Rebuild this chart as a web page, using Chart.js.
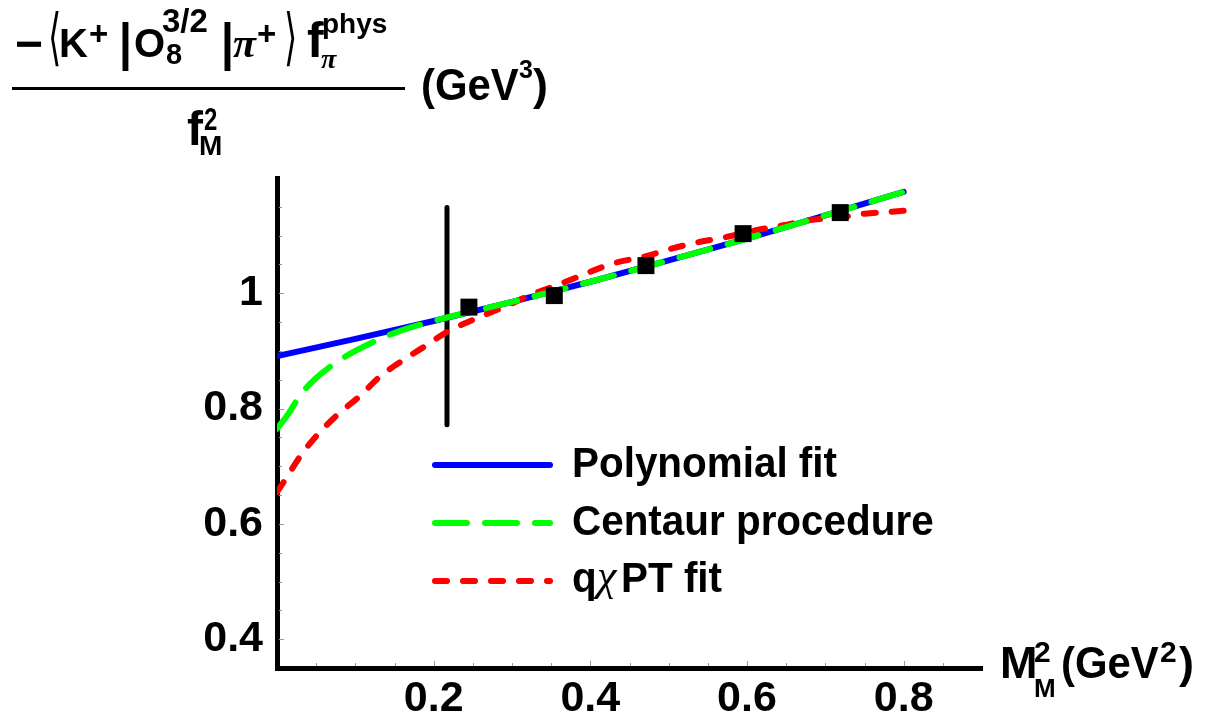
<!DOCTYPE html>
<html>
<head>
<meta charset="utf-8">
<script src="https://cdn.jsdelivr.net/npm/chart.js@4.4.1/dist/chart.umd.min.js"></script>
<style>
  html, body { margin: 0; padding: 0; background: #fff; }
</style>
</head>
<body>
<canvas id="chart" width="1212" height="721"></canvas>
<script>
// values
const polyX = [0, 0.1, 0.2, 0.3, 0.4, 0.5, 0.6, 0.7, 0.8];
const polyY = [0.891, 0.921, 0.952, 0.985, 1.020, 1.057, 1.095, 1.135, 1.176];

const centaurX = [0, 0.015, 0.03, 0.05, 0.08, 0.1, 0.13, 0.16, 0.2, 0.3, 0.4, 0.5, 0.6, 0.7, 0.8];
const centaurY = [0.765, 0.792, 0.824, 0.853, 0.884, 0.900, 0.920, 0.936, 0.952, 0.985, 1.020, 1.057, 1.095, 1.135, 1.176];

const chptX = [0, 0.012, 0.03, 0.048, 0.077, 0.106, 0.131, 0.161, 0.191, 0.217, 0.259, 0.293, 0.325, 0.361,
  0.43, 0.47, 0.505, 0.539, 0.575, 0.61, 0.646, 0.68, 0.72, 0.75, 0.8];
const chptY = [0.655, 0.680, 0.718, 0.749, 0.789, 0.822, 0.855, 0.884, 0.910, 0.933, 0.959, 0.978, 0.998, 1.016,
  1.052, 1.064, 1.078, 1.089, 1.098, 1.109, 1.118, 1.127, 1.132, 1.138, 1.143];

const latticeX = [0.245, 0.354, 0.471, 0.595, 0.719];
const latticeY = [0.976, 0.996, 1.048, 1.1035, 1.140];

const markerX = [0.217, 0.217];
const markerY = [0.772, 1.149];

const xTickValues = [0.2, 0.4, 0.6, 0.8];
const xTickLabels = ["0.2", "0.4", "0.6", "0.8"];
const yTickValues = [0.4, 0.6, 0.8, 1];
const yTickLabels = ["0.4", "0.6", "0.8", "1"];

const X_MIN = 0, X_MAX = 0.9, Y_MIN = 0.35, Y_MAX = 1.2;
const MINOR_STEP = 0.05;

const SANS = '"Liberation Sans", Arial, Helvetica, sans-serif';
const SERIF = '"Liberation Serif", "Times New Roman", serif';
const MATH = '"DejaVu Sans", sans-serif';
const bold = (px) => `bold ${px}px ${SANS}`;
const plain = (px) => `${px}px ${SANS}`;
const greek = (px) => `italic bold ${px}px ${SERIF}`;
const bracket = (px) => `${px}px ${MATH}`;

const BLUE = "#0000ff", GREEN = "#00ff00", RED = "#ff0000";
const GREEN_DASH = [32, 18];
const RED_DASH = [12, 16];

const pts = (xs, ys) => xs.map((x, i) => ({ x, y: ys[i] }));

function put(ctx, text, x, y, font, sx = 1) {
  ctx.save();
  ctx.font = font;
  ctx.translate(x, y);
  ctx.scale(sx, 1);
  ctx.fillText(text, 0, 0);
  ctx.restore();
}

// small inward ticks on both axes
const minorTicks = {
  id: "minorTicks",
  beforeDatasetsDraw(chart) {
    const { ctx, chartArea, scales } = chart;
    ctx.save();
    ctx.strokeStyle = "#999";
    ctx.lineWidth = 1;
    ctx.beginPath();
    for (let v = X_MIN + MINOR_STEP; v < X_MAX - 1e-9; v += MINOR_STEP) {
      const px = Math.round(scales.x.getPixelForValue(v)) + 0.5;
      const major = xTickValues.some((t) => Math.abs(t - v) < 1e-6);
      ctx.moveTo(px, chartArea.bottom - 2);
      ctx.lineTo(px, chartArea.bottom - (major ? 7 : 5));
    }
    for (let v = 0.4; v < Y_MAX - 1e-9; v += MINOR_STEP) {
      const py = Math.round(scales.y.getPixelForValue(v)) + 0.5;
      const major = yTickValues.some((t) => Math.abs(t - v) < 1e-6);
      ctx.moveTo(chartArea.left + 2, py);
      ctx.lineTo(chartArea.left + (major ? 7 : 5), py);
    }
    ctx.stroke();
    ctx.restore();
  },
};

// axis titles and the legend block
const annotations = {
  id: "annotations",
  afterDraw(chart) {
    const ctx = chart.ctx;
    ctx.save();
    ctx.fillStyle = "#000";
    ctx.textAlign = "left";
    ctx.textBaseline = "alphabetic";

    // y title: fraction
    put(ctx, "\u2212", 15, 60, bold(48));
    put(ctx, "\u27E8", 48, 58, bracket(62), 0.55);
    put(ctx, "K", 59, 57, bold(40));
    put(ctx, "+", 89, 45, bold(33));
    put(ctx, "|", 116, 60, plain(52), 1.4);
    put(ctx, "O", 134, 57, bold(40));
    put(ctx, "3/2", 162, 32, bold(33));
    put(ctx, "8", 166, 64, bold(29));
    put(ctx, "|", 218, 60, plain(52), 1.4);
    put(ctx, "\u03C0", 233, 57, greek(42));
    put(ctx, "+", 257, 45, bold(33));
    put(ctx, "\u27E9", 284, 58, bracket(62), 0.55);
    put(ctx, "f", 307, 57, bold(50));
    put(ctx, "phys", 322, 33, bold(28));
    put(ctx, "\u03C0", 321, 68, greek(28));
    ctx.fillRect(12, 87, 393, 3);
    put(ctx, "(GeV", 421, 100, bold(45), 0.93);
    put(ctx, "3", 519, 78, bold(25));
    put(ctx, ")", 533, 100, bold(45));
    put(ctx, "f", 187, 145, bold(48));
    put(ctx, "2", 204, 130, bold(32), 0.75);
    put(ctx, "M", 199, 155, bold(28));

    // x title
    put(ctx, "M", 1000, 678, bold(45));
    put(ctx, "2", 1034, 662, bold(30));
    put(ctx, "M", 1034, 697, bold(26));
    put(ctx, "(GeV", 1061, 678, bold(45), 0.93);
    put(ctx, "2", 1160, 662, bold(30));
    put(ctx, ")", 1179, 678, bold(45));

    // legend
    const rows = [
      { y: 465, color: BLUE, dash: [] },
      { y: 523, color: GREEN, dash: GREEN_DASH },
      { y: 581, color: RED, dash: RED_DASH },
    ];
    ctx.lineWidth = 6;
    ctx.lineCap = "round";
    for (const r of rows) {
      ctx.strokeStyle = r.color;
      ctx.setLineDash(r.dash);
      ctx.beginPath();
      ctx.moveTo(435, r.y);
      ctx.lineTo(550, r.y);
      ctx.stroke();
    }
    ctx.setLineDash([]);
    put(ctx, "Polynomial fit", 572, 477, bold(43), 0.94);
    put(ctx, "Centaur procedure", 572, 535, bold(43), 0.94);
    put(ctx, "q", 572, 592, bold(43), 0.94);
    put(ctx, "\u03C7", 597, 590, `italic 44px ${SERIF}`);
    put(ctx, "PT fit", 621, 592, bold(43), 0.94);
    ctx.restore();
  },
};

const curveStyle = {
  showLine: true,
  pointRadius: 0,
  borderWidth: 6,
  borderCapStyle: "round",
  borderJoinStyle: "round",
  cubicInterpolationMode: "monotone",
  fill: false,
};

new Chart(document.getElementById("chart").getContext("2d"), {
  type: "line",
  data: {
    datasets: [
      { label: "lattice", data: pts(latticeX, latticeY), showLine: false, pointStyle: "rect",
        pointRadius: 12, pointBackgroundColor: "#000", pointBorderWidth: 0, order: 0 },
      { label: "Centaur procedure", data: pts(centaurX, centaurY), ...curveStyle,
        borderColor: GREEN, borderDash: GREEN_DASH, order: 1 },
      { label: "q\u03C7PT fit", data: pts(chptX, chptY), ...curveStyle,
        borderColor: RED, borderDash: RED_DASH, order: 2 },
      { label: "Polynomial fit", data: pts(polyX, polyY), ...curveStyle,
        borderColor: BLUE, order: 3 },
      { label: "marker", data: pts(markerX, markerY), showLine: true, pointRadius: 0,
        borderWidth: 5, borderCapStyle: "round", borderColor: "#000", order: 4 },
    ],
  },
  options: {
    responsive: false,
    animation: false,
    events: [],
    layout: { padding: { left: 0, top: 178, right: 230, bottom: 0 } },
    plugins: { legend: { display: false }, tooltip: { enabled: false } },
    scales: {
      x: {
        type: "linear",
        min: X_MIN,
        max: X_MAX,
        grid: { display: false, drawTicks: false },
        border: { display: true, color: "#000", width: 5 },
        afterBuildTicks: (s) => { s.ticks = xTickValues.map((v) => ({ value: v })); },
        afterFit: (s) => { s.height = 53; },
        ticks: {
          color: "#000",
          padding: 5,
          maxRotation: 0,
          font: { family: SANS, size: 43, weight: "bold" },
          callback: (v) => xTickLabels[xTickValues.findIndex((t) => Math.abs(t - v) < 1e-9)],
        },
      },
      y: {
        type: "linear",
        min: Y_MIN,
        max: Y_MAX,
        grid: { display: false, drawTicks: false },
        border: { display: true, color: "#000", width: 5 },
        afterBuildTicks: (s) => { s.ticks = yTickValues.map((v) => ({ value: v })); },
        afterFit: (s) => { s.width = 277; },
        ticks: {
          color: "#000",
          padding: 14,
          font: { family: SANS, size: 43, weight: "bold" },
          callback: (v) => yTickLabels[yTickValues.findIndex((t) => Math.abs(t - v) < 1e-9)],
        },
      },
    },
  },
  plugins: [minorTicks, annotations],
});
</script>
</body>
</html>
